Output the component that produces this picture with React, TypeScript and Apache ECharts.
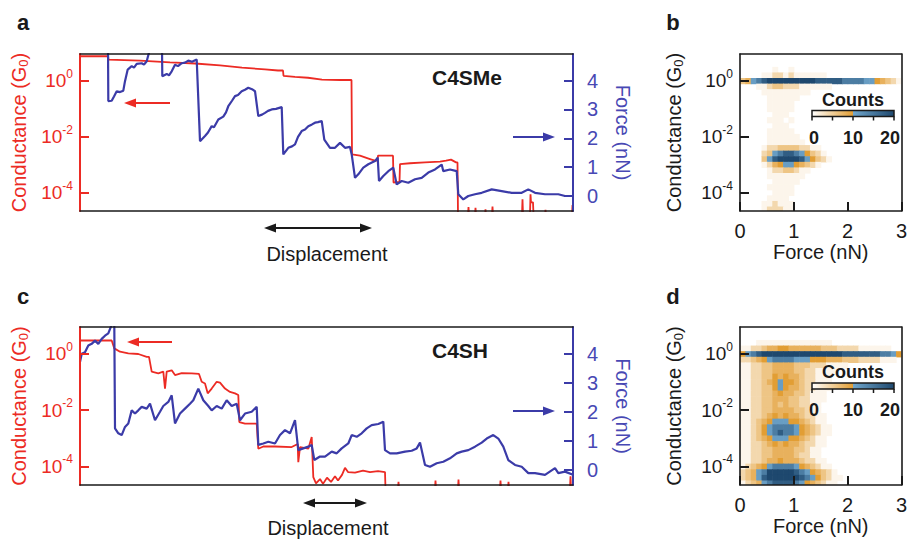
import React, { useEffect, useRef } from 'react';
import * as echarts from 'echarts';

const RED = '#ec2b24';
const BLUE = '#3b3ba8';
const BLUE_TXT = '#4848b4';
const INK = '#1a1a1a';
const FONT = "'Liberation Sans', Arial, Helvetica, sans-serif";

// ---------- Panel a (C4SMe): displacement (arb. units) vs log10(G/G0) and force (nN)
const condLogA: number[][] = [
  [0, 0.88], [28, 0.88], [28.5, 0.76], [60, 0.72], [90, 0.66], [115, 0.62], [140, 0.55], [162, 0.47],
  [185, 0.41], [198, 0.37], [203, 0.37], [203.5, 0.18], [215, 0.14], [228, 0.11], [242, 0.04], [260, 0.03],
  [271.5, 0.03], [272, -2.63], [280, -2.68], [290, -2.8], [295, -2.86], [297.5, -2.86], [298, -2.68],
  [313, -2.68], [313.5, -3.64], [319.5, -3.62], [320, -2.98], [330, -2.95], [345, -2.92], [360, -2.89],
  [366, -2.86], [371, -2.82], [376, -2.92], [377.5, -2.92], [378, -4.8],
  [388, -4.8], [388.5, -4.52], [389, -4.8], [395, -4.8], [395.5, -4.55], [396, -4.8], [405, -4.8],
  [405.5, -4.6], [406, -4.8], [412, -4.8], [412.5, -4.5], [413, -4.8], [442, -4.8], [442.5, -4.24],
  [443, -4.8], [450, -4.8], [450.5, -4.06], [451, -4.35], [453, -4.35], [453.5, -4.8], [465, -4.8],
  [465.5, -4.62], [466, -4.8], [492, -4.8], [492.5, -4.45], [493, -4.45],
];
const forceA: number[][] = [
  [0, 5.3], [28, 5.3], [28.3, 3.29], [31.7, 3.3], [34, 3.45], [36.7, 3.63], [40, 3.6], [43.3, 3.65], [45, 3.98],
  [47.7, 4.38], [51.7, 4.5], [54, 4.45], [56.7, 4.58], [61.7, 4.6], [64, 4.55], [66.7, 4.67], [70, 5.1],
  [82, 5.1], [82.3, 4.15], [86.7, 4.23], [89, 4.18], [91.7, 4.32], [95, 4.55], [98, 4.5], [101.7, 4.6],
  [105, 4.62], [108.3, 4.69], [112, 4.65], [116.7, 4.73], [120, 1.9], [125, 2.08], [128, 2.2],
  [131.7, 2.42], [134, 2.38], [138.3, 2.65], [143.3, 2.75], [146, 2.9], [148.3, 3.11], [152, 3.3],
  [155, 3.46], [158, 3.5], [161.7, 3.63], [165, 3.68], [168.3, 3.75], [172, 3.7], [175, 3.63],
  [178.3, 2.77], [182, 2.82], [185, 2.88], [188, 2.95], [191.7, 3.0], [196, 3.02], [201.7, 3.08],
  [203.3, 1.44], [208.3, 1.67], [212, 1.72], [215, 1.79], [218, 2.05], [221.7, 2.25], [225, 2.3],
  [228.3, 2.42], [232, 2.48], [235, 2.54], [238, 2.56], [241.7, 2.6], [244.3, 1.95], [250, 1.67],
  [255, 1.67], [260, 1.84], [265, 1.67], [270, 1.7], [271.7, 1.44], [275, 0.63], [278.3, 0.75],
  [283.3, 0.98], [288.3, 1.1], [295, 1.21], [297.7, 1.33], [299, 0.52], [303.3, 0.69], [308.3, 0.86],
  [313.3, 0.98], [316.7, 0.4], [321.7, 0.52], [328.3, 0.46], [335, 0.58], [341.7, 0.63], [348.3, 0.81],
  [355, 0.92], [361.7, 1.09], [363.3, 0.86], [370, 0.92], [376.7, 0.86], [378.3, 0.06], [383.3, -0.12],
  [388.3, 0.0], [395, 0.06], [401.7, 0.11], [411.7, 0.23], [421.7, 0.17], [431.7, 0.11], [441.7, 0.11],
  [448.3, 0.23], [455, 0.11], [465, 0.06], [478.3, 0.06], [485, 0.0], [493, 0.0],
];

// ---------- Panel c (C4SH)
const condLogC: number[][] = [
  [0, 0.48], [31.7, 0.48], [34.3, 0.2], [40, 0.08], [48.3, 0.02], [58.3, 0.0], [66.7, -0.1], [69, -0.1],
  [71.7, -0.63], [78.3, -0.69], [83.3, -0.63], [85, -1.23], [86.7, -0.63], [91.7, -0.58], [95, -0.75],
  [101.7, -0.68], [111.7, -0.69], [119, -0.71], [121.7, -0.99], [125, -1.05], [127.7, -1.4], [131.7, -1.23],
  [136.7, -0.99], [140, -1.02], [145, -1.23], [150, -1.35], [155, -1.4], [158.3, -1.46], [159.3, -2.42],
  [165, -2.48], [176.7, -2.48], [178.3, -3.37], [183.3, -3.29], [195, -3.29], [211.7, -3.31], [217.7, -3.2],
  [218.3, -3.85], [220, -3.31], [228.3, -3.37], [231.7, -2.95], [233.3, -4.38], [236, -4.6], [240, -4.45],
  [243, -4.62], [247, -4.4], [251, -4.55], [255, -4.35], [258, -4.5], [262, -4.3], [265, -4.05],
  [268, -4.2], [275, -4.22], [283, -4.15], [290, -4.2], [298, -4.17], [305, -4.2], [305.5, -4.8],
  [318, -4.8], [318.5, -4.55], [319, -4.8], [355, -4.8], [355.5, -4.5], [356, -4.8], [378, -4.8],
  [378.5, -4.47], [379, -4.8], [420, -4.8], [420.5, -4.5], [421, -4.8], [428, -4.8], [428.5, -4.55],
  [429, -4.8], [490, -4.8], [490.5, -4.35], [491, -4.8], [493, -4.8],
];
const forceC: number[][] = [
  [0, 3.71], [1.7, 4.0], [5, 4.05], [8.3, 4.28], [11.7, 4.34], [15, 4.45], [18.3, 4.34], [21.7, 4.51],
  [25, 4.62], [28.3, 4.7], [31.7, 5.0], [34.3, 5.0], [35, 1.43], [38.3, 1.26], [41.7, 1.2], [45, 1.48],
  [48.3, 1.6], [51.7, 2.05], [55, 1.94], [58.3, 2.05], [61.7, 2.17], [66.7, 2.11], [70, 2.28], [75, 1.71],
  [80, 2.0], [83.3, 2.2], [88.3, 2.34], [91.7, 2.57], [95, 1.6], [100, 1.94], [105, 2.11], [110, 2.28],
  [113.3, 2.4], [118.3, 2.8], [123.3, 2.4], [128.3, 2.2], [131.7, 2.05], [136.7, 2.2], [141.7, 2.11],
  [146.7, 2.4], [151.7, 2.2], [156.7, 2.28], [160, 1.71], [165, 1.94], [171.7, 2.0], [176.7, 2.17],
  [178.3, 0.86], [183.3, 0.91], [188.3, 0.97], [195, 0.91], [200, 1.2], [205, 1.37], [210, 1.26],
  [215, 1.71], [218.3, 0.68], [223.3, 0.74], [228.3, 0.8], [231.7, 0.86], [234.3, 0.34], [240, 0.46],
  [245, 0.46], [251.7, 0.63], [256.7, 0.57], [261.7, 0.74], [268.3, 0.91], [271.7, 1.2], [276.7, 1.14],
  [281.7, 1.26], [286.7, 1.43], [291.7, 1.54], [298.3, 1.58], [303.3, 1.66], [305, 0.68], [310, 0.57],
  [316.7, 0.57], [325, 0.63], [331.7, 0.66], [336.7, 0.74], [340, 0.94], [345, 0.17], [350, 0.11],
  [356.7, 0.23], [363.3, 0.28], [370, 0.4], [376.7, 0.57], [381.7, 0.63], [388.3, 0.68], [395, 0.8],
  [401.7, 0.94], [406.7, 1.08], [413.3, 1.2], [418.3, 1.08], [423.3, 0.8], [428.3, 0.34], [435, 0.17],
  [441.7, 0.11], [448.3, -0.11], [455, -0.11], [465, -0.17], [475, 0.06], [478.3, -0.11], [485, -0.06],
  [493, -0.17],
];

// ---------- 2D histograms (b, d): rows from log10(G)=0.8 down to -4.6 (step 0.2),
// columns force 0..3 nN (step 0.1); each digit is a count level.
const LEVEL_COUNTS = [0, 1, 4, 6, 8, 10, 12, 15, 18, 20];
const countsB: string[] = [
  '000000000000000000000000000000',
  '000000000000000000000000000000',
  '000000100100000000000000000000',
  '000011221211111100000000000000',
  '346789999999998888877776654321',
  '000112332221111110000000000000',
  '000011111111100000000000000000',
  '000001111110000000000000000000',
  '000001111100000000000000000000',
  '000001111100000000000000000000',
  '000000111000000000000000000000',
  '000001110100000000000000000000',
  '000000111000000000000000000000',
  '000001111100000000000000000000',
  '000001111110000000000000000000',
  '000001111111000000000000000000',
  '000012233332211000000000000000',
  '000023678876532100000000000000',
  '000036899998653210000000000000',
  '000012456654321000000000000000',
  '000001223321100000000000000000',
  '000001111111000000000000000000',
  '000000111110000000000000000000',
  '000001111100000000000000000000',
  '000000111100000000000000000000',
  '000001111000000000000000000000',
  '000011211100000000000000000000',
  '000012221100000000000000000000',
];
const countsD: string[] = [
  '000000000000000000000000000000',
  '000000000000000000000000000000',
  '000111111111111110000000000000',
  '112234455444444333222211111100',
  '567899999999999999988888887765',
  '223456777766655544433322221110',
  '112233444433322211110000000000',
  '112233444433221111000000000000',
  '112233545443221110000000000000',
  '112234565543221110000000000000',
  '112233565443221110000000000000',
  '112233454433211100000000000000',
  '112233444332211100000000000000',
  '112233434332211000000000000000',
  '112233444433211000000000000000',
  '112234545443221100000000000000',
  '112345666554321100000000000000',
  '112356777765432110000000000000',
  '112356787765432110000000000000',
  '112345666554321100000000000000',
  '112234545443221100000000000000',
  '112233444433211000000000000000',
  '112233444432211000000000000000',
  '112234454443221100000000000000',
  '123456777765432110000000000000',
  '234679999987654321000000000000',
  '234689999998765321100000000000',
  '123467888876543211000000000000',
];
const HEAT_TOP = 0.8;
const X_BIN = 0.1;
const Y_BIN = 0.2;

const logTicks = [-4, -2, 0];
const forceTicks = [0, 1, 2, 3, 4];
const histForceTicks = [0, 1, 2, 3];
const countTicks = [0, 10, 20];

function toCells(rows: string[]) {
  const out: number[][] = [];
  rows.forEach((row, r) => {
    const L = HEAT_TOP - r * Y_BIN;
    for (let i = 0; i < row.length; i++) {
      const d = Number(row[i]);
      if (d > 0) out.push([(i + 0.5) * X_BIN, Math.round(L * 10) / 10, LEVEL_COUNTS[d]]);
    }
  });
  return out;
}

function mix(a: number[], b: number[], t: number) {
  const c = a.map((v, i) => Math.round(v + (b[i] - v) * t));
  return `rgb(${c[0]},${c[1]},${c[2]})`;
}
const C_WHITE = [255, 255, 255];
const C_ORANGE = [226, 158, 52];
const C_LBLUE = [122, 178, 216];
const C_DBLUE = [30, 72, 110];
function colorFor(count: number) {
  if (count <= 10) return mix(C_WHITE, C_ORANGE, count / 10);
  return mix(C_LBLUE, C_DBLUE, (count - 10) / 10);
}

const supLabel = (color: string) => ({
  customValues: logTicks,
  margin: 7,
  color,
  formatter: (v: number) => `{b|10}{s|${v}}`,
  rich: {
    b: { fontSize: 19, fontFamily: FONT, color },
    s: { fontSize: 12, fontFamily: FONT, color, padding: [0, 0, 14, 0] },
  },
});

const nameRich = (color: string) => ({
  color,
  fontFamily: FONT,
  fontSize: 20,
  rich: {
    a: { fontSize: 20, fontFamily: FONT, color },
    sub: { fontSize: 13, fontFamily: FONT, color, padding: [9, 0, 0, 0] },
  },
});
const COND_NAME = '{a|Conductance (G}{sub|0}{a|)}';

function frameX(gridIndex: number, pos: 'top' | 'bottom', min: number, max: number) {
  return {
    gridIndex, type: 'value', position: pos, min, max, z: 5,
    axisLine: { show: true, onZero: false, lineStyle: { color: INK, width: 1.6 } },
    axisTick: { show: false }, axisLabel: { show: false }, splitLine: { show: false },
  };
}

function heatRender(params: any, api: any) {
  const x = api.value(0);
  const y = api.value(1);
  const c = api.value(2);
  const p0 = api.coord([x - X_BIN / 2, y + Y_BIN / 2]);
  const p1 = api.coord([x + X_BIN / 2, y - Y_BIN / 2]);
  const rect = echarts.graphic.clipRectByRect(
    { x: p0[0], y: p0[1], width: p1[0] - p0[0] + 0.6, height: p1[1] - p0[1] + 0.6 },
    params.coordSys
  );
  if (!rect) return null;
  return { type: 'rect', shape: rect, style: { fill: colorFor(c) } };
}

function txt(text: string, x: number, y: number, font: string, fill = INK, align = 'center') {
  return {
    type: 'text', z: 20,
    style: { text, x, y, font, fill, align, textAlign: align, verticalAlign: 'middle', textVerticalAlign: 'middle' },
  };
}
function seg(x1: number, y1: number, x2: number, y2: number, color: string, w = 2) {
  return { type: 'line', z: 20, shape: { x1, y1, x2, y2 }, style: { stroke: color, lineWidth: w } };
}
function head(tipX: number, y: number, dir: number, color: string) {
  // dir = -1 points left, +1 points right
  const back = tipX - dir * 12;
  return { type: 'polygon', z: 20, shape: { points: [[tipX, y], [back, y - 4.5], [back, y + 4.5]] }, style: { fill: color } };
}
function colorBar(x: number, y: number) {
  const w = 82, h = 6;
  const els: any[] = [
    {
      type: 'rect', z: 20, shape: { x, y, width: w, height: h },
      style: {
        fill: new echarts.graphic.LinearGradient(0, 0, 1, 0, [
          { offset: 0, color: colorFor(0) },
          { offset: 0.5, color: colorFor(10) },
          { offset: 0.5001, color: colorFor(11) },
          { offset: 1, color: colorFor(20) },
        ]),
        stroke: INK, lineWidth: 1.5,
      },
    },
  ];
  [0, 5, 10, 15, 20].forEach((t) => {
    const tx = x + (w * t) / 20;
    els.push(seg(tx, y + h, tx, y + h + 4, INK, 1.5));
  });
  els.push(txt('Counts', x + 41, y - 11, `bold 18px ${FONT}`));
  countTicks.forEach((t, i) => {
    const offs = [2, 0, -4][i];
    els.push(txt(String(t), x + (w * t) / 20 + offs, y + 27, `bold 18px ${FONT}`));
  });
  return els;
}

export default function App() {
  const ref = useRef<HTMLDivElement>(null);
  useEffect(() => {
    if (!ref.current) return;
    const chart = echarts.init(ref.current, undefined, { renderer: 'svg' });
    const LMIN = -4.66, LMAX = 0.96, FMIN = -0.52, FMAX = 4.92, DMAX = 493;

    const leftLog = (gridIndex: number, color: string, nameGap: number) => ({
      gridIndex, type: 'value', position: 'left', min: LMIN, max: LMAX, z: 5,
      axisLine: { show: true, onZero: false, lineStyle: { color, width: color === INK ? 1.6 : 2 } },
      axisTick: { show: true, inside: true, length: 9, customValues: logTicks, lineStyle: { color, width: 2 } },
      axisLabel: supLabel(color),
      splitLine: { show: false },
      name: COND_NAME, nameLocation: 'middle', nameGap, nameTextStyle: nameRich(color),
    });
    const rightForce = (gridIndex: number) => ({
      gridIndex, type: 'value', position: 'right', min: FMIN, max: FMAX, z: 5,
      axisLine: { show: true, onZero: false, lineStyle: { color: BLUE, width: 2 } },
      axisTick: { show: true, inside: true, length: 9, customValues: forceTicks, lineStyle: { color: BLUE, width: 2 } },
      axisLabel: { customValues: forceTicks, color: BLUE_TXT, fontSize: 20, fontFamily: FONT, margin: 14 },
      splitLine: { show: false },
      name: 'Force (nN)', nameLocation: 'middle', nameRotate: -90, nameGap: 40,
      nameTextStyle: { color: BLUE_TXT, fontSize: 20, fontFamily: FONT },
    });
    const rightFrame = (gridIndex: number) => ({
      gridIndex, type: 'value', position: 'right', min: LMIN, max: LMAX, z: 5,
      axisLine: { show: true, onZero: false, lineStyle: { color: INK, width: 1.6 } },
      axisTick: { show: false }, axisLabel: { show: false }, splitLine: { show: false },
    });
    const histX = (gridIndex: number) => ({
      gridIndex, type: 'value', position: 'bottom', min: 0, max: 3, interval: 1, z: 5,
      axisLine: { show: true, onZero: false, lineStyle: { color: INK, width: 1.6 } },
      axisTick: { show: true, inside: true, length: 9, lineStyle: { color: INK, width: 2 } },
      axisLabel: { color: INK, fontSize: 20, fontFamily: FONT, margin: 10, customValues: histForceTicks },
      splitLine: { show: false },
      name: 'Force (nN)', nameLocation: 'middle', nameGap: 26,
      nameTextStyle: { color: INK, fontSize: 20, fontFamily: FONT },
    });

    const option: any = {
      animation: false,
      backgroundColor: '#ffffff',
      textStyle: { fontFamily: FONT },
      grid: [
        { left: 80, top: 54, width: 493, height: 157 },
        { left: 740, top: 54, width: 165, height: 157 },
        { left: 80, top: 327, width: 493, height: 158 },
        { left: 740, top: 327, width: 165, height: 158 },
      ],
      xAxis: [
        frameX(0, 'bottom', 0, DMAX), frameX(0, 'top', 0, DMAX),
        histX(1), frameX(1, 'top', 0, 3),
        frameX(2, 'bottom', 0, DMAX), frameX(2, 'top', 0, DMAX),
        histX(3), frameX(3, 'top', 0, 3),
      ],
      yAxis: [
        leftLog(0, RED, 47), rightForce(0),
        leftLog(1, INK, 55), rightFrame(1),
        leftLog(2, RED, 47), rightForce(2),
        leftLog(3, INK, 55), rightFrame(3),
      ],
      series: [
        { type: 'line', xAxisIndex: 0, yAxisIndex: 0, data: condLogA, symbol: 'none', clip: true, z: 2,
          lineStyle: { color: RED, width: 1.8 } },
        { type: 'line', xAxisIndex: 0, yAxisIndex: 1, data: forceA, symbol: 'none', clip: true, z: 3,
          lineStyle: { color: BLUE, width: 2.2 } },
        { type: 'custom', xAxisIndex: 2, yAxisIndex: 2, data: toCells(countsB), renderItem: heatRender, z: 1 },
        { type: 'line', xAxisIndex: 4, yAxisIndex: 4, data: condLogC, symbol: 'none', clip: true, z: 2,
          lineStyle: { color: RED, width: 1.8 } },
        { type: 'line', xAxisIndex: 4, yAxisIndex: 5, data: forceC, symbol: 'none', clip: true, z: 3,
          lineStyle: { color: BLUE, width: 2.2 } },
        { type: 'custom', xAxisIndex: 6, yAxisIndex: 6, data: toCells(countsD), renderItem: heatRender, z: 1 },
      ],
      graphic: {
        elements: [
          txt('a', 23, 22.5, `bold 22px ${FONT}`),
          txt('b', 673, 22, `bold 22px ${FONT}`),
          txt('c', 23, 296, `bold 22px ${FONT}`),
          txt('d', 673, 296, `bold 22px ${FONT}`),
          txt('C4SMe', 467, 77, `bold 21px ${FONT}`),
          txt('C4SH', 460, 350, `bold 21px ${FONT}`),
          // direction arrows, panel a
          seg(170, 103, 128, 103, RED), head(124, 103, -1, RED),
          seg(513, 137, 551, 137, BLUE), head(555, 137, 1, BLUE),
          // direction arrows, panel c
          seg(172, 342, 131, 342, RED), head(127, 342, -1, RED),
          seg(513, 411, 551, 411, BLUE), head(555, 411, 1, BLUE),
          // displacement arrows
          seg(268, 228, 368, 228, INK, 2), head(264, 228, -1, INK), head(372, 228, 1, INK),
          txt('Displacement', 327, 254, `20px ${FONT}`),
          seg(307, 503, 363, 503, INK, 2), head(303, 503, -1, INK), head(367, 503, 1, INK),
          txt('Displacement', 328, 528, `20px ${FONT}`),
          ...colorBar(812, 110.5),
          ...colorBar(812, 383),
        ],
      },
    };
    chart.setOption(option);
    return () => chart.dispose();
  }, []);
  return <div ref={ref} style={{ position: 'fixed', left: 0, top: 0, width: 910, height: 539, background: '#fff' }} />;
}
